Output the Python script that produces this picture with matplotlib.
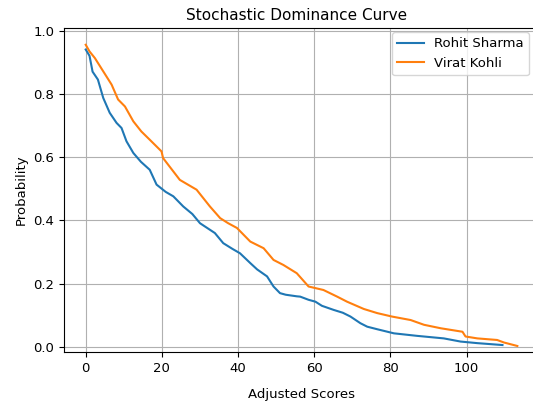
import matplotlib
matplotlib.use("Agg")
import matplotlib.pyplot as plt

rohit_x = [0, 1.0, 1.8, 3.2, 4.6, 6.3, 8.1, 9.4, 10.7, 12.5, 14.5, 16.8, 18.6, 21.0, 23.0, 25.6, 28.0, 30.0,
           33.9, 36.1, 38.5, 40.5, 43.2, 45.0, 47.6, 49.3, 51.0, 52.5, 55.4, 56.3, 58.5, 60.3, 62.0, 65.1,
           67.5, 69.5, 72.1, 73.9, 76.5, 80.9, 87.0, 94.0, 98.4, 102.8, 109.4]
rohit_y = [0.94, 0.92, 0.87, 0.845, 0.787, 0.74, 0.708, 0.692, 0.65, 0.613, 0.585, 0.56, 0.513, 0.49, 0.476,
           0.444, 0.42, 0.391, 0.36, 0.328, 0.31, 0.296, 0.265, 0.245, 0.223, 0.191, 0.17, 0.165, 0.16, 0.159,
           0.149, 0.143, 0.13, 0.117, 0.108, 0.096, 0.075, 0.064, 0.056, 0.043, 0.035, 0.027, 0.017, 0.012, 0.006]

virat_x = [0, 1.0, 2.4, 4.6, 6.8, 8.5, 10.3, 12.5, 14.6, 16.8, 19.9, 20.3, 24.7, 29.1, 32.6, 35.3, 37.4, 39.7,
           42.3, 43.2, 46.7, 49.3, 51.9, 55.4, 58.5, 62.4, 66.0, 68.6, 73.0, 76.5, 80.4, 85.3, 88.8, 93.2,
           98.9, 99.7, 102.8, 108.0, 109.8, 113.3]
virat_y = [0.955, 0.934, 0.913, 0.871, 0.829, 0.782, 0.76, 0.713, 0.681, 0.655, 0.618, 0.597, 0.528, 0.497,
           0.444, 0.407, 0.391, 0.376, 0.344, 0.333, 0.312, 0.275, 0.259, 0.233, 0.191, 0.18, 0.159, 0.143,
           0.12, 0.107, 0.096, 0.085, 0.07, 0.059, 0.048, 0.033, 0.027, 0.022, 0.014, 0.003]

fig = plt.figure(figsize=(5.33, 4.03), dpi=100)
# axes run past the right edge of the figure, as in the reference (cropped)
ax = fig.add_axes([64/533, 51/403, 536/533, 324/403])
ax.plot(rohit_x, rohit_y, label="Rohit Sharma", color="#1f77b4", linewidth=1.5)
ax.plot(virat_x, virat_y, label="Virat Kohli", color="#ff7f0e", linewidth=1.5)
ax.set_ylim(-0.016, 1.008)
ax.set_xlim(-5.7, 135.0)
ax.set_xticks([0, 20, 40, 60, 80, 100])
ax.set_yticks([0.0, 0.2, 0.4, 0.6, 0.8, 1.0])
ax.tick_params(labelsize=9.5)
ax.grid(True)
fig.text((64 + 474/2) / 533 - 0.008, 1 - 16/403, "Stochastic Dominance Curve", fontsize=11,
         ha="center", va="center")
ax.set_xlabel("Adjusted Scores", fontsize=9.5)
ax.xaxis.set_label_coords((301 - 64) / 536, -0.11)
ax.set_ylabel("Probability", fontsize=9.5)
ax.legend(loc="upper right", fontsize=9.5, bbox_to_anchor=(529/533, 1 - 32/403),
          bbox_transform=fig.transFigure, borderaxespad=0)
fig.savefig("out.png", dpi=100)
